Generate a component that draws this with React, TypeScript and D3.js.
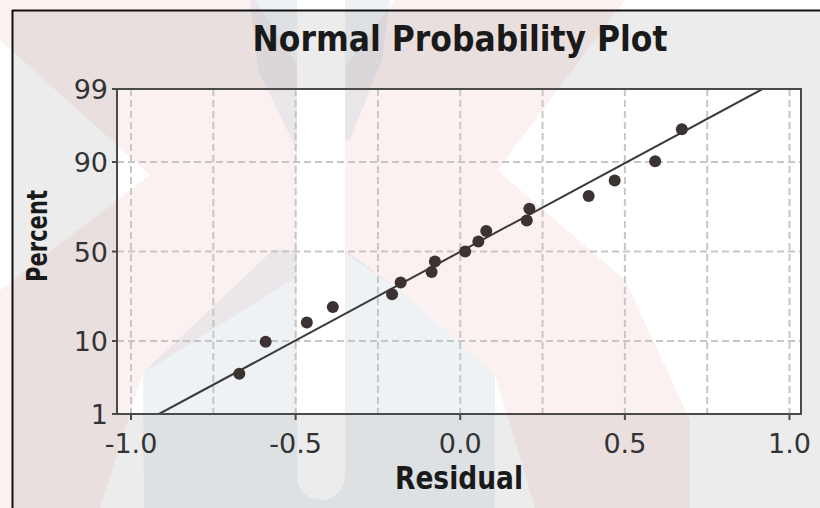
import React from "react";
import * as d3 from "d3";

// ---- data ----
const residuals = [-0.671, -0.591, -0.466, -0.387, -0.207, -0.181, -0.087, -0.077, 0.015, 0.055, 0.079, 0.202, 0.21, 0.39, 0.469, 0.592, 0.673];
const percents = [4.0, 9.8, 15.5, 21.3, 27.0, 32.8, 38.5, 44.3, 50.0, 55.7, 61.5, 67.2, 73.0, 78.7, 84.5, 90.2, 96.0];
const fitResidual = [-0.915, 0.918];
const fitPercent = [1, 99];
const xTicks = [-1.0, -0.5, 0.0, 0.5, 1.0];
const xGrid = [-1.0, -0.75, -0.5, -0.25, 0.0, 0.25, 0.5, 0.75, 1.0];
const yTicks = [1, 10, 50, 90, 99];
const yGrid = [10, 50, 90];
const title = "Normal Probability Plot";
const xTitle = "Residual";
const yTitle = "Percent";

// inverse normal CDF (Acklam)
function probit(p: number): number {
  const a = [-3.969683028665376e1, 2.209460984245205e2, -2.759285104469687e2, 1.38357751867269e2, -3.066479806614716e1, 2.506628277459239];
  const b = [-5.447609879822406e1, 1.615858368580409e2, -1.556989798598866e2, 6.680131188771972e1, -1.328068155288572e1];
  const c = [-7.784894002430293e-3, -3.223964580411365e-1, -2.400758277161838, -2.549732539343734, 4.374664141464968, 2.938163982698783];
  const d = [7.784695709041462e-3, 3.224671290700398e-1, 2.445134137142996, 3.754408661907416];
  const pl = 0.02425;
  if (p < pl) {
    const q = Math.sqrt(-2 * Math.log(p));
    return (((((c[0] * q + c[1]) * q + c[2]) * q + c[3]) * q + c[4]) * q + c[5]) / ((((d[0] * q + d[1]) * q + d[2]) * q + d[3]) * q + 1);
  }
  if (p <= 1 - pl) {
    const q = p - 0.5, r = q * q;
    return ((((((a[0] * r + a[1]) * r + a[2]) * r + a[3]) * r + a[4]) * r + a[5]) * q) / (((((b[0] * r + b[1]) * r + b[2]) * r + b[3]) * r + b[4]) * r + 1);
  }
  const q = Math.sqrt(-2 * Math.log(1 - p));
  return -(((((c[0] * q + c[1]) * q + c[2]) * q + c[3]) * q + c[4]) * q + c[5]) / ((((d[0] * q + d[1]) * q + d[2]) * q + d[3]) * q + 1);
}

const W = 820, H = 508;
const PL = 117, PR = 801, PT = 89, PB = 414;

export default function App() {
  const x = d3.scaleLinear().domain([-1, 1]).range([131, 789.5]);
  const zScale = d3.scaleLinear().domain([probit(0.01), probit(0.99)]).range([PB, PT]);
  const y = (p: number) => zScale(probit(p / 100));
  const fmt = (v: number) => d3.format(".1f")(v).replace("\u2212", "-");
  const line = d3.line<number>().x((_, i) => x(fitResidual[i])).y((_, i) => y(fitPercent[i]));
  const font = "'DejaVu Sans', Verdana, sans-serif";

  const pink = "rgba(225,105,105,0.09)";
  const blue = "rgba(85,125,155,0.1)";

  return (
    <svg width={W} height={H} style={{ position: "absolute", left: 0, top: 0, display: "block" }} fontFamily={font}>
      <defs>
        <mask id="pillMask">
          <rect x={0} y={0} width={W} height={H} fill="white" />
          <rect x={297} y={-40} width={48} height={540} rx={24} fill="black" />
        </mask>
        <clipPath id="plotClip">
          <rect x={PL} y={PT} width={PR - PL} height={PB - PT} />
        </clipPath>
      </defs>
      <rect x={0} y={0} width={W} height={H} fill="#ffffff" />
      <rect x={12} y={10} width={W} height={H} fill="#ececec" />
      <rect x={PL} y={PT} width={PR - PL} height={PB - PT} fill="#ffffff" />

      {/* watermark */}
      <g mask="url(#pillMask)">
        <polygon
          fill={pink}
          points="0,0 255,0 320,100 395,0 625,0 497,170 625,280 690,420 690,508 535,508 495,375 400,290 340,250 143,373 100,508 0,508 0,290 150,175 0,40"
        />
        <polygon fill={blue} points="143,373 273,250 345,250 400,290 495,375 495,508 144,508" />
        <polygon fill={blue} points="250,0 390,0 382,60 350,140 297,150 258,70" />
      </g>

      {/* grid */}
      <g stroke="#c6c6c6" strokeWidth={2} strokeDasharray="7,4" fill="none">
        {xGrid.map((v) => (
          <line key={"gx" + v} x1={x(v)} x2={x(v)} y1={PT} y2={PB} />
        ))}
        {yGrid.map((v) => (
          <line key={"gy" + v} x1={PL} x2={PR} y1={y(v)} y2={y(v)} />
        ))}
      </g>

      {/* fit line */}
      <g clipPath="url(#plotClip)">
        <path d={line([0, 1]) || ""} stroke="#3a3a3a" strokeWidth={2} fill="none" />
      </g>

      {/* points */}
      <g fill="#3b3232">
        {residuals.map((r, i) => (
          <circle key={i} cx={x(r)} cy={y(percents[i])} r={6} />
        ))}
      </g>

      {/* axes frame */}
      <rect x={PL} y={PT} width={PR - PL} height={PB - PT} fill="none" stroke="#4a4a4a" strokeWidth={2} />
      <g stroke="#4a4a4a" strokeWidth={2}>
        {yTicks.map((v) => (
          <line key={"ty" + v} x1={PL - 5} x2={PL} y1={y(v)} y2={y(v)} />
        ))}
        {xTicks.map((v) => (
          <line key={"tx" + v} x1={x(v)} x2={x(v)} y1={PB} y2={PB + 6} />
        ))}
      </g>

      {/* tick labels */}
      <g fill="#333333" fontSize={27}>
        {yTicks.map((v) => (
          <text key={"ly" + v} x={108} y={y(v) + 10} textAnchor="end">
            {String(v)}
          </text>
        ))}
        {xTicks.map((v) => (
          <text key={"lx" + v} x={x(v)} y={453} textAnchor="middle">
            {fmt(v)}
          </text>
        ))}
      </g>

      {/* titles */}
      <text x={460} y={51} textAnchor="middle" fontSize={35} fontWeight="bold" fill="#1a1a1a" textLength={415} lengthAdjust="spacingAndGlyphs">
        {title}
      </text>
      <text x={459} y={489} textAnchor="middle" fontSize={32} fontWeight="bold" fill="#1a1a1a" textLength={128} lengthAdjust="spacingAndGlyphs">
        {xTitle}
      </text>
      <text transform="translate(47,236) rotate(-90)" textAnchor="middle" fontSize={28} fontWeight="bold" fill="#1a1a1a" textLength={92} lengthAdjust="spacingAndGlyphs">
        {yTitle}
      </text>

      {/* outer frame edges */}
      <line x1={12} x2={W} y1={10.5} y2={10.5} stroke="#111" strokeWidth={2} />
      <line x1={12.5} x2={12.5} y1={10} y2={H} stroke="#111" strokeWidth={2} />
    </svg>
  );
}
